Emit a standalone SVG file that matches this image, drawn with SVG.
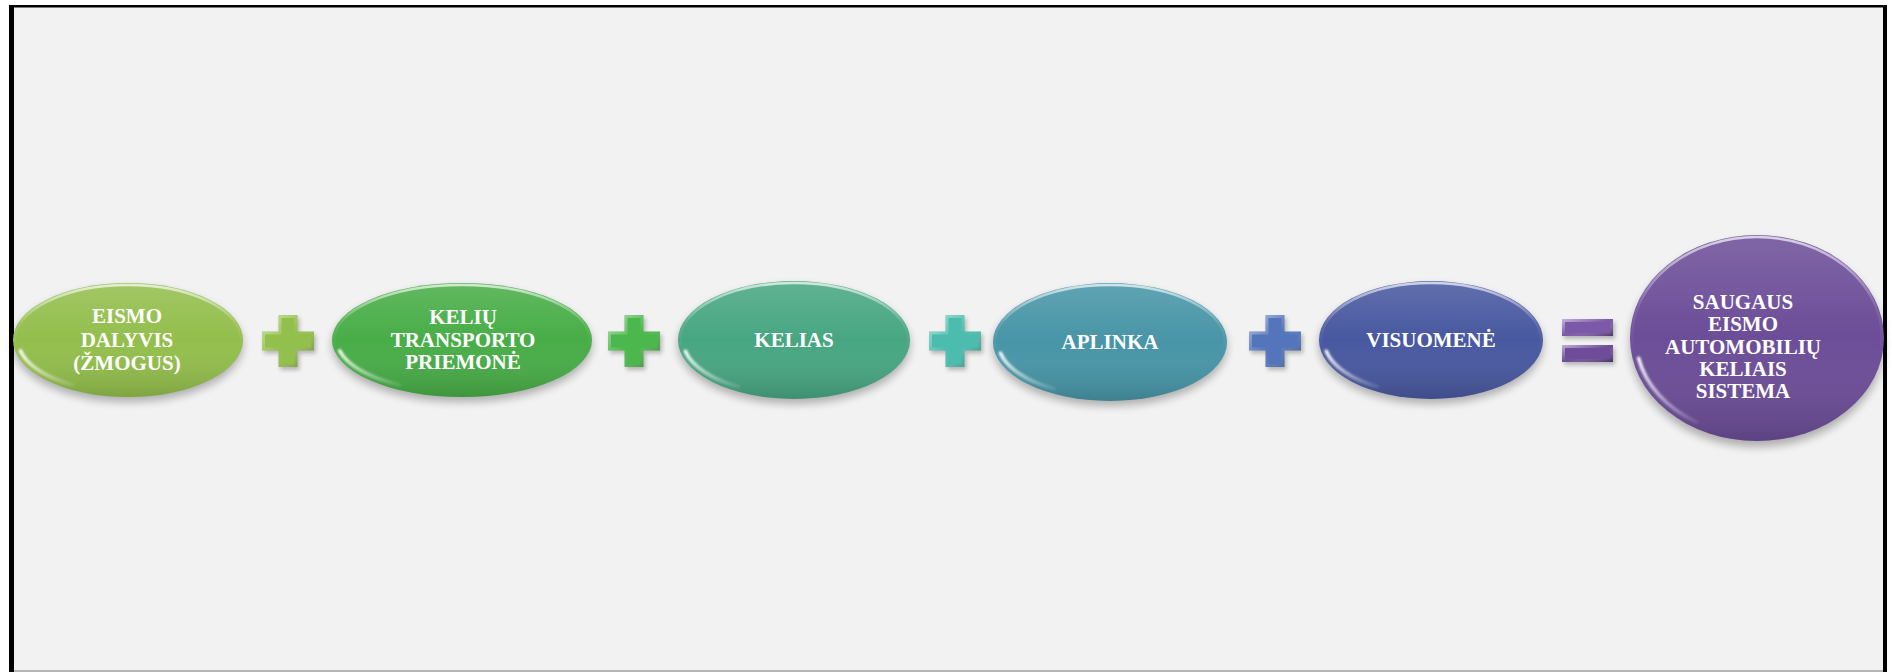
<svg xmlns="http://www.w3.org/2000/svg" width="1892" height="672" viewBox="0 0 1892 672">
<style>
.lbl{font-family:"Liberation Serif","Times New Roman",serif;font-weight:bold;font-size:21px;fill:#ffffff;text-anchor:middle}
.shadow{fill:#000;opacity:0.28;filter:url(#blur4)}
.shade{fill:url(#shadeGrad)}
.rim{fill:none;stroke:url(#rimGrad);stroke-width:2.5}
.glint{fill:none;stroke:url(#glintGrad);stroke-width:3.5;stroke-linecap:round;filter:url(#blur1)}
.opshadow{fill:#000;opacity:0.25;filter:url(#blur2)}
</style>
<defs>
<filter id="blur4" x="-20%" y="-30%" width="140%" height="160%"><feGaussianBlur stdDeviation="4"/></filter>
<filter id="blur2" x="-30%" y="-30%" width="160%" height="160%"><feGaussianBlur stdDeviation="2"/></filter>
<filter id="blur1" x="-20%" y="-20%" width="140%" height="140%"><feGaussianBlur stdDeviation="1"/></filter>
<linearGradient id="shadeGrad" x1="0" y1="0" x2="0" y2="1">
<stop offset="0" stop-color="#ffffff" stop-opacity="0.14"/>
<stop offset="0.5" stop-color="#ffffff" stop-opacity="0"/>
<stop offset="1" stop-color="#000000" stop-opacity="0.14"/>
</linearGradient>
<linearGradient id="rimGrad" x1="0" y1="0" x2="0" y2="1">
<stop offset="0" stop-color="#ffffff" stop-opacity="0.7"/>
<stop offset="0.35" stop-color="#ffffff" stop-opacity="0.1"/>
<stop offset="0.6" stop-color="#ffffff" stop-opacity="0"/>
</linearGradient>
<linearGradient id="glintGrad" x1="0" y1="0" x2="1" y2="1">
<stop offset="0" stop-color="#ffffff" stop-opacity="0.95"/>
<stop offset="0.4" stop-color="#ffffff" stop-opacity="0.6"/>
<stop offset="1" stop-color="#ffffff" stop-opacity="0.1"/>
</linearGradient>
<linearGradient id="bevelGrad" x1="0" y1="0" x2="1" y2="1">
<stop offset="0" stop-color="#ffffff" stop-opacity="0.55"/>
<stop offset="0.5" stop-color="#ffffff" stop-opacity="0"/>
<stop offset="1" stop-color="#000000" stop-opacity="0.4"/>
</linearGradient>
<path id="crossOuter" d="M -9.5 -26 h19 v16.5 h16.5 v19 h-16.5 v16.5 h-19 v-16.5 h-16.5 v-19 h16.5 z"/>
<path id="crossInner" d="M -6.5 -23 h13 v16.5 h16.5 v13 h-16.5 v16.5 h-13 v-16.5 h-16.5 v-13 h16.5 z"/>
</defs>

<rect x="0" y="0" width="1892" height="672" fill="#ffffff"/>
<rect x="9" y="5" width="1878" height="667" fill="#f2f2f2"/>
<rect x="9" y="5" width="1878" height="2.5" fill="#000"/>
<rect x="9" y="5" width="5" height="667" fill="#000"/>
<rect x="1883" y="5" width="4" height="667" fill="#000"/>
<rect x="14" y="670" width="1869" height="2" fill="#b4b4b4"/>

<g id="connectors">
<g id="plus1" transform="translate(288,341)">
<use href="#crossOuter" class="opshadow" transform="translate(2,3)"/>
<use href="#crossOuter" fill="#93c04c"/>
<use href="#crossOuter" fill="url(#bevelGrad)"/>
<use href="#crossInner" fill="#93c04c"/>
</g>
<g id="plus2" transform="translate(634,341)">
<use href="#crossOuter" class="opshadow" transform="translate(2,3)"/>
<use href="#crossOuter" fill="#4cb74c"/>
<use href="#crossOuter" fill="url(#bevelGrad)"/>
<use href="#crossInner" fill="#4cb74c"/>
</g>
<g id="plus3" transform="translate(955,341)">
<use href="#crossOuter" class="opshadow" transform="translate(2,3)"/>
<use href="#crossOuter" fill="#4cbcae"/>
<use href="#crossOuter" fill="url(#bevelGrad)"/>
<use href="#crossInner" fill="#4cbcae"/>
</g>
<g id="plus4" transform="translate(1275,341)">
<use href="#crossOuter" class="opshadow" transform="translate(2,3)"/>
<use href="#crossOuter" fill="#5475bb"/>
<use href="#crossOuter" fill="url(#bevelGrad)"/>
<use href="#crossInner" fill="#5475bb"/>
</g>
<g id="equals">
<rect x="1564" y="322" width="51" height="17" class="opshadow"/>
<rect x="1564" y="348" width="51" height="17" class="opshadow"/>
<rect x="1562" y="319" width="51" height="17" fill="#7c58a8"/>
<rect x="1562" y="319" width="51" height="17" fill="url(#bevelGrad)"/>
<rect x="1565" y="322" width="45" height="11" fill="#7c58a8"/>
<rect x="1562" y="345" width="51" height="17" fill="#6e4c9a"/>
<rect x="1562" y="345" width="51" height="17" fill="url(#bevelGrad)"/>
<rect x="1565" y="348" width="45" height="11" fill="#6e4c9a"/>
</g>
</g>

<g id="node1" transform="translate(128,340)">
<ellipse cx="0" cy="5" rx="115" ry="57" class="shadow"/>
<ellipse cx="0" cy="0" rx="115" ry="57" fill="#93be4c"/>
<ellipse cx="0" cy="0" rx="115" ry="57" class="shade"/>
<ellipse cx="0" cy="0" rx="113" ry="55" class="rim"/>
<path d="M -107.6 10.8 A 110 52 0 0 0 -55 45" class="glint"/>
<text class="lbl" x="-1" y="-17">EISMO</text>
<text class="lbl" x="-1" y="7">DALYVIS</text>
<text class="lbl" x="-1" y="30">(ŽMOGUS)</text>
</g>

<g id="node2" transform="translate(462,340)">
<ellipse cx="0" cy="5" rx="130" ry="57" class="shadow"/>
<ellipse cx="0" cy="0" rx="130" ry="57" fill="#48ad47"/>
<ellipse cx="0" cy="0" rx="130" ry="57" class="shade"/>
<ellipse cx="0" cy="0" rx="128" ry="55" class="rim"/>
<path d="M -122.3 10.8 A 125 52 0 0 0 -62.5 45" class="glint"/>
<text class="lbl" x="1" y="-16">KELIŲ</text>
<text class="lbl" x="1" y="7">TRANSPORTO</text>
<text class="lbl" x="1" y="29">PRIEMONĖ</text>
</g>

<g id="node3" transform="translate(794,340)">
<ellipse cx="0" cy="5" rx="116" ry="59" class="shadow"/>
<ellipse cx="0" cy="0" rx="116" ry="59" fill="#47a682"/>
<ellipse cx="0" cy="0" rx="116" ry="59" class="shade"/>
<ellipse cx="0" cy="0" rx="114" ry="57" class="rim"/>
<path d="M -108.6 11.2 A 111 54 0 0 0 -55.5 46.8" class="glint"/>
<text class="lbl" x="0" y="7">KELIAS</text>
</g>

<g id="node4" transform="translate(1110,342)">
<ellipse cx="0" cy="5" rx="117" ry="59" class="shadow"/>
<ellipse cx="0" cy="0" rx="117" ry="59" fill="#4795a7"/>
<ellipse cx="0" cy="0" rx="117" ry="59" class="shade"/>
<ellipse cx="0" cy="0" rx="115" ry="57" class="rim"/>
<path d="M -109.5 11.2 A 112 54 0 0 0 -56 46.8" class="glint"/>
<text class="lbl" x="0" y="7">APLINKA</text>
</g>

<g id="node5" transform="translate(1431,340)">
<ellipse cx="0" cy="5" rx="112" ry="59" class="shadow"/>
<ellipse cx="0" cy="0" rx="112" ry="59" fill="#4858a0"/>
<ellipse cx="0" cy="0" rx="112" ry="59" class="shade"/>
<ellipse cx="0" cy="0" rx="110" ry="57" class="rim"/>
<path d="M -104.7 11.2 A 107 54 0 0 0 -53.5 46.8" class="glint"/>
<text class="lbl" x="0" y="7">VISUOMENĖ</text>
</g>

<g id="node6" transform="translate(1757,338)">
<ellipse cx="0" cy="6" rx="127" ry="103" class="shadow"/>
<ellipse cx="0" cy="0" rx="127" ry="103" fill="#6c4d98"/>
<ellipse cx="0" cy="0" rx="127" ry="103" class="shade"/>
<ellipse cx="0" cy="0" rx="125" ry="101" class="rim"/>
<path d="M -118.4 20.2 A 121 97 0 0 0 -60.5 84" class="glint"/>
<text class="lbl" x="-14" y="-29">SAUGAUS</text>
<text class="lbl" x="-14" y="-7">EISMO</text>
<text class="lbl" x="-14" y="16">AUTOMOBILIŲ</text>
<text class="lbl" x="-14" y="38">KELIAIS</text>
<text class="lbl" x="-14" y="60">SISTEMA</text>
</g>
</svg>
